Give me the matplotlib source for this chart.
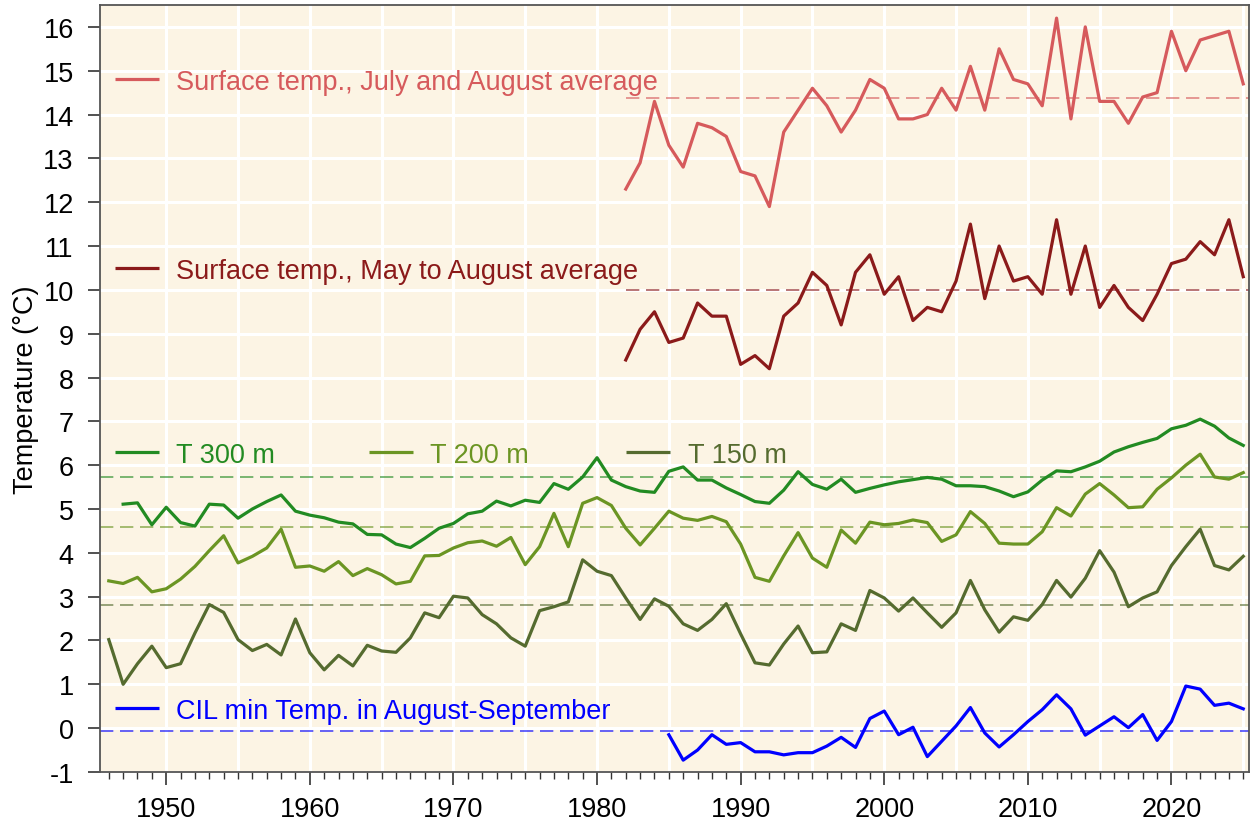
import numpy as np
import matplotlib.pyplot as plt
from matplotlib.ticker import MultipleLocator

plt.rcParams['font.family'] = ['Liberation Sans', 'DejaVu Sans']
plt.rcParams['axes.unicode_minus'] = False

# surface temperatures, 1982-2025
years_surf = list(range(1982, 2026))
jul_aug = [12.3, 12.9, 14.3, 13.3, 12.8, 13.8, 13.7, 13.5, 12.7, 12.6,
           11.9, 13.6, 14.1, 14.6, 14.2, 13.6, 14.1, 14.8, 14.6, 13.9,
           13.9, 14.0, 14.6, 14.1, 15.1, 14.1, 15.5, 14.8, 14.7, 14.2,
           16.2, 13.9, 16.0, 14.3, 14.3, 13.8, 14.4, 14.5, 15.9, 15.0,
           15.7, 15.8, 15.9, 14.7]
may_aug = [8.4, 9.1, 9.5, 8.8, 8.9, 9.7, 9.4, 9.4, 8.3, 8.5,
           8.2, 9.4, 9.7, 10.4, 10.1, 9.2, 10.4, 10.8, 9.9, 10.3,
           9.3, 9.6, 9.5, 10.2, 11.5, 9.8, 11.0, 10.2, 10.3, 9.9,
           11.6, 9.9, 11.0, 9.6, 10.1, 9.6, 9.3, 9.9, 10.6, 10.7,
           11.1, 10.8, 11.6, 10.3]

# deep temperatures
years_300 = list(range(1947, 2026))
t300 = [5.11, 5.14, 4.64, 5.04, 4.69, 4.61, 5.11, 5.09, 4.79, 5.00,
        5.17, 5.32, 4.95, 4.86, 4.80, 4.70, 4.66, 4.42, 4.41, 4.20,
        4.12, 4.33, 4.56, 4.67, 4.89, 4.95, 5.18, 5.07, 5.20, 5.15,
        5.58, 5.45, 5.73, 6.17, 5.66, 5.51, 5.41, 5.38, 5.86, 5.96,
        5.66, 5.66, 5.48, 5.33, 5.17, 5.13, 5.43, 5.85, 5.56, 5.45,
        5.68, 5.38, 5.47, 5.55, 5.62, 5.67, 5.72, 5.68, 5.53, 5.53,
        5.51, 5.41, 5.28, 5.39, 5.66, 5.87, 5.85, 5.96, 6.09, 6.30,
        6.42, 6.52, 6.61, 6.83, 6.91, 7.05, 6.89, 6.62, 6.45]
years_deep = list(range(1946, 2026))
t200 = [3.36, 3.30, 3.44, 3.11, 3.18, 3.40, 3.69, 4.05, 4.39, 3.77,
        3.92, 4.11, 4.54, 3.67, 3.70, 3.58, 3.80, 3.48, 3.64, 3.50,
        3.29, 3.35, 3.93, 3.94, 4.11, 4.23, 4.27, 4.15, 4.35, 3.73,
        4.14, 4.90, 4.14, 5.13, 5.26, 5.08, 4.56, 4.18, 4.56, 4.95,
        4.79, 4.74, 4.83, 4.71, 4.20, 3.44, 3.35, 3.93, 4.46, 3.88,
        3.67, 4.52, 4.22, 4.70, 4.64, 4.67, 4.75, 4.69, 4.26, 4.41,
        4.94, 4.67, 4.22, 4.20, 4.20, 4.48, 5.03, 4.84, 5.34, 5.58,
        5.32, 5.03, 5.05, 5.45, 5.71, 6.00, 6.25, 5.73, 5.68, 5.83]
t150 = [2.02, 1.00, 1.47, 1.87, 1.38, 1.47, 2.17, 2.82, 2.64, 2.02,
        1.77, 1.91, 1.67, 2.49, 1.72, 1.33, 1.66, 1.42, 1.89, 1.76,
        1.73, 2.06, 2.63, 2.52, 3.01, 2.97, 2.59, 2.38, 2.06, 1.87,
        2.68, 2.77, 2.88, 3.84, 3.58, 3.48, 2.97, 2.48, 2.95, 2.78,
        2.38, 2.23, 2.48, 2.84, 2.15, 1.49, 1.44, 1.92, 2.33, 1.72,
        1.74, 2.38, 2.23, 3.14, 2.97, 2.67, 2.97, 2.63, 2.30, 2.63,
        3.37, 2.70, 2.19, 2.54, 2.46, 2.82, 3.37, 2.99, 3.42, 4.05,
        3.56, 2.77, 2.97, 3.11, 3.71, 4.14, 4.54, 3.71, 3.61, 3.92]

# cold intermediate layer minimum
years_cil = list(range(1985, 2026))
cil = [-0.15, -0.73, -0.50, -0.15, -0.37, -0.33, -0.54, -0.54, -0.61, -0.56,
       -0.56, -0.41, -0.21, -0.44, 0.22, 0.39, -0.15, 0.02, -0.65, -0.30,
       0.05, 0.47, -0.11, -0.43, -0.15, 0.15, 0.42, 0.76, 0.44, -0.16,
       0.05, 0.26, 0.01, 0.31, -0.28, 0.15, 0.96, 0.89, 0.52, 0.57,
       0.44]

# reference averages (dashed)
mean_jul_aug = 14.37
mean_may_aug = 9.99
mean_t300 = 5.73
mean_t200 = 4.58
mean_t150 = 2.82
mean_cil = -0.07

c_jul = '#D65A5C'
c_may = '#8B1A1A'
c_300 = '#228B22'
c_200 = '#6B9523'
c_150 = '#556B2F'
c_cil = '#0000FF'

fig = plt.figure(figsize=(12.52, 8.29), dpi=100)
ax = fig.add_axes([0.080, 0.0676, 0.9176, 0.9252])
ax.set_facecolor('#FCF4E4')

ax.set_xlim(1945.4, 2025.4)
ax.set_ylim(-1, 16.5)

# white grid
for gx in range(1950, 2026, 5):
    ax.axvline(gx, color='white', lw=2.2, zorder=0)
for gy in range(-1, 17):
    ax.axhline(gy, color='white', lw=2.2, zorder=0)

dash = dict(ls=(0, (8, 4)), lw=1.2, alpha=0.7, zorder=1)
ax.hlines(mean_jul_aug, 1982, 2025.4, color=c_jul, **dash)
ax.hlines(mean_may_aug, 1982, 2025.4, color=c_may, **dash)
ax.axhline(mean_t300, color=c_300, **dash)
ax.axhline(mean_t200, color=c_200, **dash)
ax.axhline(mean_t150, color=c_150, **dash)
ax.axhline(mean_cil, color=c_cil, **dash)

lw = 2.3
ax.plot(years_surf, jul_aug, color=c_jul, lw=lw, zorder=3)
ax.plot(years_surf, may_aug, color=c_may, lw=lw, zorder=3)
ax.plot(years_300, t300, color=c_300, lw=lw, zorder=3)
ax.plot(years_deep, t200, color=c_200, lw=lw, zorder=3)
ax.plot(years_deep, t150, color=c_150, lw=lw, zorder=3)
ax.plot(years_cil, cil, color=c_cil, lw=lw, zorder=3)

fs = 19.5

# in-plot legend entries
def key(x0, y, text, color):
    ax.plot([x0, x0 + 3.1], [y, y], color=color, lw=lw, solid_capstyle='butt')
    ax.text(x0 + 4.3, y, text, color=color, fontsize=fs,
            va='center_baseline', ha='left')

key(1946.4, 14.8, 'Surface temp., July and August average', c_jul)
key(1946.4, 10.5, 'Surface temp., May to August average', c_may)
key(1946.4, 6.3, 'T 300 m', c_300)
key(1964.1, 6.3, 'T 200 m', c_200)
key(1982.0, 6.3, 'T 150 m', c_150)
key(1946.4, 0.46, 'CIL min Temp. in August-September', c_cil)

ax.yaxis.set_major_locator(MultipleLocator(1))
ax.xaxis.set_major_locator(MultipleLocator(10))
ax.xaxis.set_minor_locator(MultipleLocator(1))
ax.tick_params(axis='both', which='major', length=9, width=1.2, color='#333333',
               labelsize=fs)
ax.tick_params(axis='y', which='major', pad=10)
ax.tick_params(axis='x', which='major', pad=8)
ax.tick_params(axis='x', which='minor', length=5, width=1.0, color='#333333')
ax.set_ylabel('Temperature (\u00b0C)', fontsize=fs, labelpad=3)

for s in ax.spines.values():
    s.set_color('#555555')
    s.set_linewidth(1.3)

fig.savefig('out.png', dpi=100)
